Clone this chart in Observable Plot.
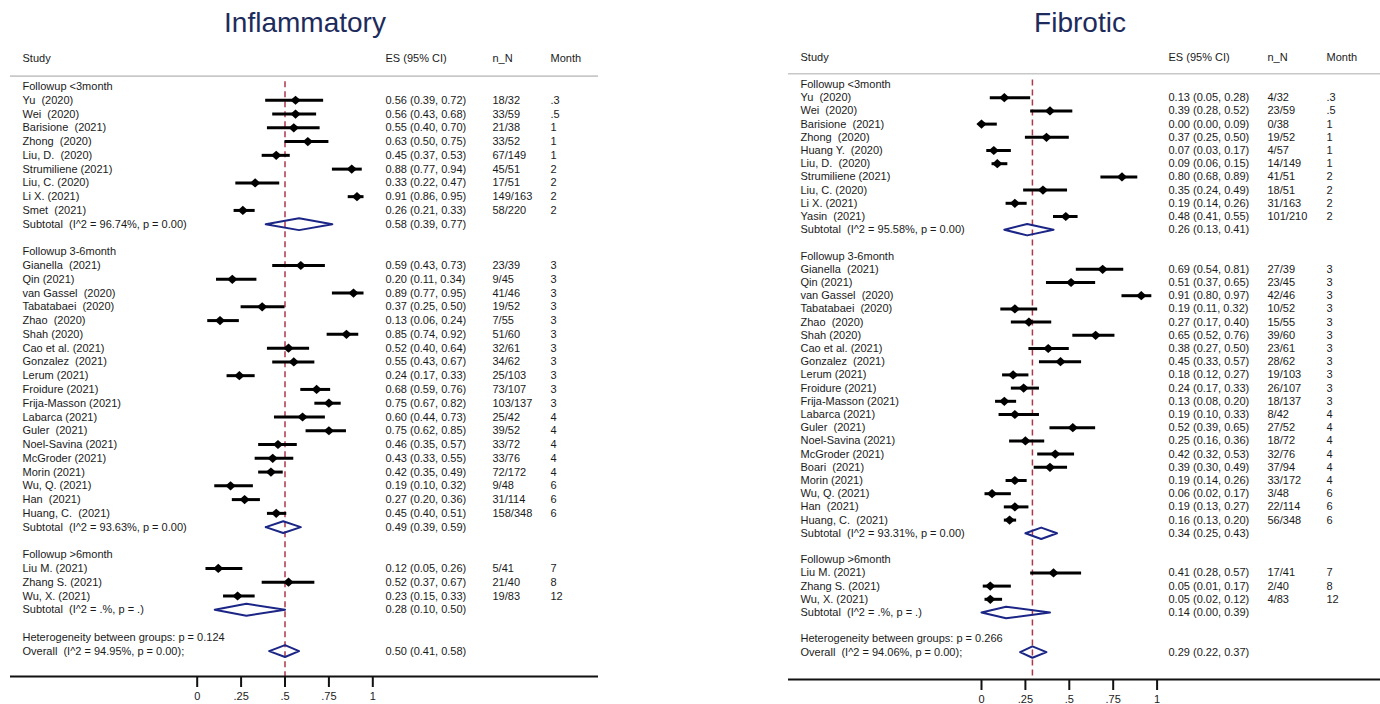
<!DOCTYPE html>
<html><head><meta charset="utf-8">
<script src="https://cdn.jsdelivr.net/npm/d3@7"></script>
<script src="https://cdn.jsdelivr.net/npm/@observablehq/plot@0.6"></script>
<style>
body{margin:0;background:#fff;font-family:"Liberation Sans",Arial,sans-serif;}
#wrap{position:relative;width:1380px;height:704px;overflow:hidden;background:#fff}
.panel{position:absolute;top:0;width:690px}
.title{position:relative;height:44px;}
.title span{position:absolute;top:1px;transform:translateX(-50%);font-size:28px;line-height:44px;color:#1d2b5c;white-space:nowrap}
svg{display:block}
svg text{white-space:pre}
</style></head>
<body><div id="wrap">
<div class="panel" id="left" style="left:0"><div class="title"><span style="left:305px">Inflammatory</span></div></div>
<div class="panel" id="right" style="left:690px"><div class="title"><span style="left:390px">Fibrotic</span></div></div>
</div>
<script>
// ---------- shared ----------
const groupLabels = ["Followup <3month", "Followup 3-6month", "Followup >6month"];
const headers = ["Study", "ES (95% CI)", "n_N", "Month"];
const ticks = [0, 0.25, 0.5, 0.75, 1];
const tickLabels = ["0", ".25", ".5", ".75", "1"];

// ---------- Inflammatory ----------
const infStudy = ["Yu  (2020)", "Wei  (2020)", "Barisione  (2021)", "Zhong  (2020)", "Liu, D.  (2020)", "Strumiliene (2021)", "Liu, C. (2020)", "Li X. (2021)", "Smet  (2021)",
  "Gianella  (2021)", "Qin (2021)", "van Gassel  (2020)", "Tabatabaei  (2020)", "Zhao  (2020)", "Shah (2020)", "Cao et al. (2021)", "Gonzalez  (2021)", "Lerum (2021)", "Froidure (2021)", "Frija-Masson (2021)", "Labarca (2021)", "Guler  (2021)", "Noel-Savina (2021)", "McGroder (2021)", "Morin (2021)", "Wu, Q. (2021)", "Han  (2021)", "Huang, C.  (2021)",
  "Liu M. (2021)", "Zhang S. (2021)", "Wu, X. (2021)"];
const infGroup = [0,0,0,0,0,0,0,0,0, 1,1,1,1,1,1,1,1,1,1,1,1,1,1,1,1,1,1,1, 2,2,2];
const infES = [0.56,0.56,0.55,0.63,0.45,0.88,0.33,0.91,0.26, 0.59,0.20,0.89,0.37,0.13,0.85,0.52,0.55,0.24,0.68,0.75,0.60,0.75,0.46,0.43,0.42,0.19,0.27,0.45, 0.12,0.52,0.23];
const infLo = [0.39,0.43,0.40,0.50,0.37,0.77,0.22,0.86,0.21, 0.43,0.11,0.77,0.25,0.06,0.74,0.40,0.43,0.17,0.59,0.67,0.44,0.62,0.35,0.33,0.35,0.10,0.20,0.40, 0.05,0.37,0.15];
const infHi = [0.72,0.68,0.70,0.75,0.53,0.94,0.47,0.95,0.33, 0.73,0.34,0.95,0.50,0.24,0.92,0.64,0.67,0.33,0.76,0.82,0.73,0.85,0.57,0.55,0.49,0.32,0.36,0.51, 0.26,0.67,0.33];
const infN = ["18/32","33/59","21/38","33/52","67/149","45/51","17/51","149/163","58/220",
  "23/39","9/45","41/46","19/52","7/55","51/60","32/61","34/62","25/103","73/107","103/137","25/42","39/52","33/72","33/76","72/172","9/48","31/114","158/348",
  "5/41","21/40","19/83"];
const infMonth = [".3",".5","1","1","1","2","2","2","2", "3","3","3","3","3","3","3","3","3","3","3","4","4","4","4","4","6","6","6", "7","8","12"];
const infSubLabel = ["Subtotal  (I^2 = 96.74%, p = 0.00)", "Subtotal  (I^2 = 93.63%, p = 0.00)", "Subtotal  (I^2 = .%, p = .)"];
const infSubES = [0.58, 0.49, 0.28];
const infSubLo = [0.39, 0.39, 0.10];
const infSubHi = [0.77, 0.59, 0.50];
const infHet = "Heterogeneity between groups: p = 0.124";
const infOverall = {label: "Overall  (I^2 = 94.95%, p = 0.00);", es: 0.50, lo: 0.41, hi: 0.58};

// ---------- Fibrotic ----------
const fibStudy = ["Yu  (2020)", "Wei  (2020)", "Barisione  (2021)", "Zhong  (2020)", "Huang Y.  (2020)", "Liu, D.  (2020)", "Strumiliene (2021)", "Liu, C. (2020)", "Li X. (2021)", "Yasin  (2021)",
  "Gianella  (2021)", "Qin (2021)", "van Gassel  (2020)", "Tabatabaei  (2020)", "Zhao  (2020)", "Shah (2020)", "Cao et al. (2021)", "Gonzalez  (2021)", "Lerum (2021)", "Froidure (2021)", "Frija-Masson (2021)", "Labarca (2021)", "Guler  (2021)", "Noel-Savina (2021)", "McGroder (2021)", "Boari  (2021)", "Morin (2021)", "Wu, Q. (2021)", "Han  (2021)", "Huang, C.  (2021)",
  "Liu M. (2021)", "Zhang S. (2021)", "Wu, X. (2021)"];
const fibGroup = [0,0,0,0,0,0,0,0,0,0, 1,1,1,1,1,1,1,1,1,1,1,1,1,1,1,1,1,1,1,1, 2,2,2];
const fibES = [0.13,0.39,0.00,0.37,0.07,0.09,0.80,0.35,0.19,0.48, 0.69,0.51,0.91,0.19,0.27,0.65,0.38,0.45,0.18,0.24,0.13,0.19,0.52,0.25,0.42,0.39,0.19,0.06,0.19,0.16, 0.41,0.05,0.05];
const fibLo = [0.05,0.28,0.00,0.25,0.03,0.06,0.68,0.24,0.14,0.41, 0.54,0.37,0.80,0.11,0.17,0.52,0.27,0.33,0.12,0.17,0.08,0.10,0.39,0.16,0.32,0.30,0.14,0.02,0.13,0.13, 0.28,0.01,0.02];
const fibHi = [0.28,0.52,0.09,0.50,0.17,0.15,0.89,0.49,0.26,0.55, 0.81,0.65,0.97,0.32,0.40,0.76,0.50,0.57,0.27,0.33,0.20,0.33,0.65,0.36,0.53,0.49,0.26,0.17,0.27,0.20, 0.57,0.17,0.12];
const fibN = ["4/32","23/59","0/38","19/52","4/57","14/149","41/51","18/51","31/163","101/210",
  "27/39","23/45","42/46","10/52","15/55","39/60","23/61","28/62","19/103","26/107","18/137","8/42","27/52","18/72","32/76","37/94","33/172","3/48","22/114","56/348",
  "17/41","2/40","4/83"];
const fibMonth = [".3",".5","1","1","1","1","2","2","2","2", "3","3","3","3","3","3","3","3","3","3","3","4","4","4","4","4","4","6","6","6", "7","8","12"];
const fibSubLabel = ["Subtotal  (I^2 = 95.58%, p = 0.00)", "Subtotal  (I^2 = 93.31%, p = 0.00)", "Subtotal  (I^2 = .%, p = .)"];
const fibSubES = [0.26, 0.34, 0.14];
const fibSubLo = [0.13, 0.25, 0.00];
const fibSubHi = [0.41, 0.43, 0.39];
const fibHet = "Heterogeneity between groups: p = 0.266";
const fibOverall = {label: "Overall  (I^2 = 94.06%, p = 0.00);", es: 0.29, lo: 0.22, hi: 0.37};

// ---------- build ----------
const f2 = v => v.toFixed(2);
function buildRows(P) {
  const rows = [];
  let r = 0;
  groupLabels.forEach((gl, g) => {
    rows.push({row: r++, kind: "head", label: gl});
    P.study.forEach((s, i) => {
      if (P.group[i] === g) rows.push({row: r++, kind: "study", label: s, es: P.es[i], lo: P.lo[i], hi: P.hi[i], nN: P.n[i], month: P.month[i]});
    });
    rows.push({row: r++, kind: "sub", label: P.subLabel[g], es: P.subES[g], lo: P.subLo[g], hi: P.subHi[g]});
    r++;
  });
  rows.push({row: r++, kind: "head", label: P.het});
  rows.push({row: r++, kind: "sub", label: P.overall.label, es: P.overall.es, lo: P.overall.lo, hi: P.overall.hi});
  rows.forEach(d => { if (d.es != null) d.esText = `${f2(d.es)} (${f2(d.lo)}, ${f2(d.hi)})`; });
  return rows;
}

const diamondSymbol = {
  draw(ctx, size) {
    const h = Math.sqrt(size / Math.PI);
    ctx.moveTo(-h * 1.12, 0); ctx.lineTo(0, -h); ctx.lineTo(h * 1.12, 0); ctx.lineTo(0, h); ctx.closePath();
  }
};

function panel(P, L) {
  const rows = buildRows(P);
  const studies = rows.filter(d => d.kind === "study");
  const subs = rows.filter(d => d.kind === "sub");
  const poly = subs.flatMap((d, k) => [
    {x: d.lo, y: d.row, k}, {x: d.es, y: d.row - 0.43, k}, {x: d.hi, y: d.row, k}, {x: d.es, y: d.row + 0.43, k}, {x: d.lo, y: d.row, k}
  ]);
  const txt = {frameAnchor: "left", textAnchor: "start", fill: "#1a1a1a", fontSize: 11};
  const headerMarks = headers.map((h, i) => Plot.text([h], {y: L.headRow, text: d => d, ...txt, dx: L.cols[i]}));
  return Plot.plot({
    width: 690, height: 660,
    marginLeft: L.ml, marginRight: L.mr, marginTop: 0, marginBottom: L.mb,
    style: {fontFamily: "'Liberation Sans', Arial, sans-serif", fontSize: "11px", background: "#fff", color: "#1a1a1a"},
    x: {domain: [0, 1], range: L.xr, axis: null},
    y: {domain: [0, L.last], range: L.yr, axis: null},
    marks: [
      Plot.ruleY([L.lineRow], {stroke: "#c8c8c8", strokeWidth: 1.6}),
      ...headerMarks,
      Plot.ruleX([P.overall.es], {y1: -0.35, y2: L.axisRow, stroke: "#b0374a", strokeWidth: 1.5, strokeDasharray: "6,4"}),
      Plot.ruleY(studies, {y: "row", x1: "lo", x2: "hi", stroke: "#000", strokeWidth: 3}),
      Plot.dot(studies, {x: "es", y: "row", r: 4.6, symbol: diamondSymbol, fill: "#000", stroke: "none"}),
      Plot.line(poly, {x: "x", y: "y", z: "k", stroke: "#1b2585", strokeWidth: 2, curve: "linear"}),
      Plot.text(rows, {y: "row", text: "label", ...txt, dx: L.cols[0]}),
      Plot.text(rows.filter(d => d.esText), {y: "row", text: "esText", ...txt, dx: L.cols[1]}),
      Plot.text(studies, {y: "row", text: "nN", ...txt, dx: L.cols[2]}),
      Plot.text(studies, {y: "row", text: "month", ...txt, dx: L.cols[3]}),
      Plot.ruleY([L.axisRow], {stroke: "#111", strokeWidth: 2}),
      Plot.axisX({ticks, tickFormat: d => tickLabels[ticks.indexOf(d)], tickSize: 11, tickPadding: 5, strokeWidth: 2, stroke: "#111", fill: "#1a1a1a", fontSize: 11, label: null, anchor: "bottom"})
    ]
  });
}

const leftLayout = {ml: 10, mr: 92, mb: 28, xr: [196.7, 372.3], last: 41, yr: [42, 42 + 41 * 13.77],
  headRow: -2.03, lineRow: -0.75, axisRow: 42.85, cols: [12, 375, 482, 540]};
const rightLayout = {ml: 98, mr: 0, mb: 25, xr: [291, 466.6], last: 43, yr: [40, 40 + 43 * 13.2],
  headRow: -2.02, lineRow: -0.81, axisRow: 45.08, cols: [12, 380, 479, 538]};

const infP = {study: infStudy, group: infGroup, es: infES, lo: infLo, hi: infHi, n: infN, month: infMonth,
  subLabel: infSubLabel, subES: infSubES, subLo: infSubLo, subHi: infSubHi, het: infHet, overall: infOverall};
const fibP = {study: fibStudy, group: fibGroup, es: fibES, lo: fibLo, hi: fibHi, n: fibN, month: fibMonth,
  subLabel: fibSubLabel, subES: fibSubES, subLo: fibSubLo, subHi: fibSubHi, het: fibHet, overall: fibOverall};

document.getElementById("left").appendChild(panel(infP, leftLayout));
document.getElementById("right").appendChild(panel(fibP, rightLayout));
</script>
</body></html>
